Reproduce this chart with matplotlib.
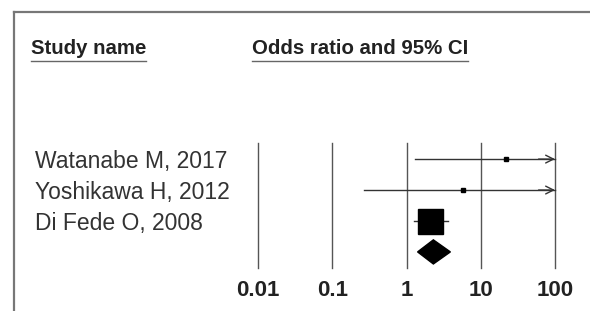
import matplotlib
matplotlib.use("Agg")
from matplotlib import pyplot as plt
from matplotlib.lines import Line2D
from matplotlib.patches import Polygon
from matplotlib.transforms import blended_transform_factory

plt.rcParams['font.family'] = ['Liberation Sans', 'DejaVu Sans']

studies = ["Watanabe M, 2017", "Yoshikawa H, 2012", "Di Fede O, 2008"]
odds = [22.0, 5.7, 2.05]
lower = [1.32, 0.27, 1.28]
upper = [400.0, 400.0, 3.6]
box_size = [3.5, 3, 18]

pooled_or = 2.3
pooled_low = 1.41
pooled_up = 3.9

ticks = [0.01, 0.1, 1, 10, 100]
tick_labels = ["0.01", "0.1", "1", "10", "100"]

W, H = 590, 311
fig = plt.figure(figsize=(W / 100, H / 100), dpi=100)

def fx(px):
    return px / W

def fy(py):
    return 1 - py / H

# cornice
fig.add_artist(Line2D([fx(14), fx(14)], [fy(12), 0], color='#777777', lw=1.6))
fig.add_artist(Line2D([fx(14), 1], [fy(12), fy(12)], color='#777777', lw=1.6))

# intestazioni
fig.text(fx(31), fy(54), "Study name", fontsize=14.7, fontweight='bold', va='baseline', color='#222222')
fig.add_artist(Line2D([fx(31), fx(146)], [fy(61), fy(61)], color='#666666', lw=1))
fig.text(fx(252), fy(54), "Odds ratio and 95% CI", fontsize=14.7, fontweight='bold', va='baseline', color='#222222')
fig.add_artist(Line2D([fx(252), fx(468)], [fy(61), fy(61)], color='#666666', lw=1))

ax = fig.add_axes([fx(258), fy(268), fx(555) - fx(258), (268 - 143) / H])
ax.set_xscale('log')
ax.set_xlim(0.01, 100)
ax.set_ylim(3.52, -0.52)
for s in ax.spines.values():
    s.set_visible(False)
ax.set_yticks([])
ax.set_xticks(ticks)
ax.set_xticklabels(tick_labels, fontsize=16, fontweight='bold', color='#222222')
ax.tick_params(axis='x', length=0, pad=9)
ax.minorticks_off()

for t in ticks:
    ax.axvline(t, color='#555555', lw=1, clip_on=False)

trans = blended_transform_factory(fig.transFigure, ax.transData)
for i, name in enumerate(studies):
    fig.text(fx(35), i, name, transform=trans, fontsize=16.5,
             va='center_baseline', color='#333333')

for i in range(len(studies)):
    hi = min(upper[i], 100)
    ax.plot([lower[i], hi], [i, i], color='#333333', lw=1, clip_on=False)
    if upper[i] > 100:
        ax.annotate("", xy=(100, i), xytext=(60, i),
                    arrowprops=dict(arrowstyle='->', color='#333333', lw=1,
                                    mutation_scale=14, shrinkA=0, shrinkB=0))
    ax.plot(odds[i], i, marker='s', color='black', markersize=box_size[i], lw=0)

h = 0.39
diamond = Polygon([(pooled_low, 3), (pooled_or, 3 - h), (pooled_up, 3), (pooled_or, 3 + h)],
                  closed=True, color='black')
ax.add_patch(diamond)

fig.savefig("out.png", dpi=100)
